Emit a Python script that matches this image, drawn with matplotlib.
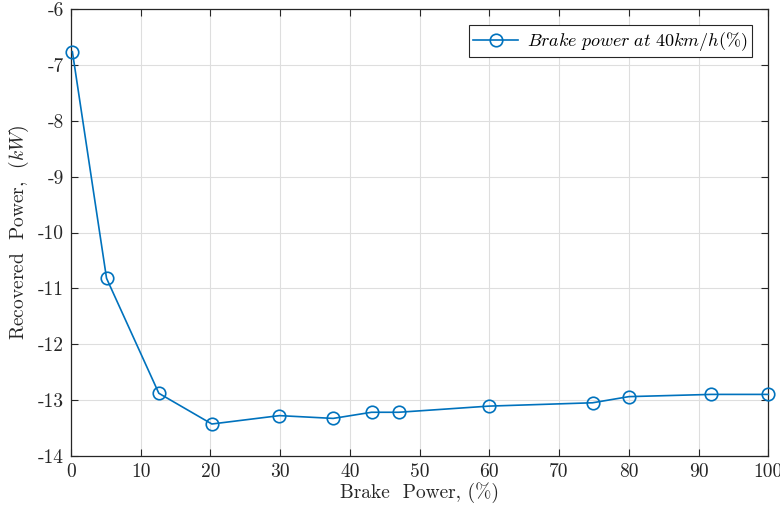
import matplotlib.pyplot as plt
import numpy as np

# Data
brake_power = [0.2, 5.1, 12.6, 20.2, 29.9, 37.6, 43.1, 47.0, 59.9, 74.8, 80.0, 91.8, 100.0]
recovered_kw = [-6.76, -10.82, -12.88, -13.43, -13.28, -13.33, -13.22, -13.22, -13.11, -13.05, -12.94, -12.90, -12.90]

x_ticks = [0, 10, 20, 30, 40, 50, 60, 70, 80, 90, 100]
y_ticks = [-14, -13, -12, -11, -10, -9, -8, -7, -6]

plt.rcParams['font.family'] = ['cmr10', 'DejaVu Serif']
plt.rcParams['mathtext.fontset'] = 'cm'
plt.rcParams['axes.unicode_minus'] = False

fig = plt.figure(figsize=(7.8, 5.11), dpi=100)
ax = fig.add_axes([0.091, 0.108, 0.894, 0.874])

ax.plot(brake_power, recovered_kw, color='#0072BD', linewidth=1.2,
        marker='o', markersize=9, markerfacecolor='none', markeredgewidth=1.2,
        label=r'$Brake\ power\ at\ 40km/h(\%)$', clip_on=False, zorder=3)

ax.set_xlim(0, 100)
ax.set_ylim(-14, -6)
ax.set_xticks(x_ticks)
ax.set_xticklabels([str(t) for t in x_ticks])
ax.set_yticks(y_ticks)
ax.set_yticklabels([str(t) for t in y_ticks])
ax.tick_params(direction='in', top=True, right=True, length=5, width=0.8,
               labelsize=14, colors='#262626', pad=5)
for s in ax.spines.values():
    s.set_color('#262626')
    s.set_linewidth(0.9)

ax.grid(True, color='#dedede', linewidth=0.8)
ax.set_axisbelow(True)

ax.set_xlabel(r'Brake  Power, (%)', fontsize=14, color='#262626', labelpad=1)
ax.set_ylabel(r'Recovered  Power,  $(kW)$', fontsize=14, color='#262626', labelpad=5)

leg = ax.legend(loc='upper right', fontsize=13, fancybox=False, framealpha=1,
                edgecolor='#262626', borderaxespad=0.9, borderpad=0.25,
                handlelength=2.5, handletextpad=0.5)
leg.get_frame().set_linewidth(0.8)

fig.savefig('out.png', dpi=100)
